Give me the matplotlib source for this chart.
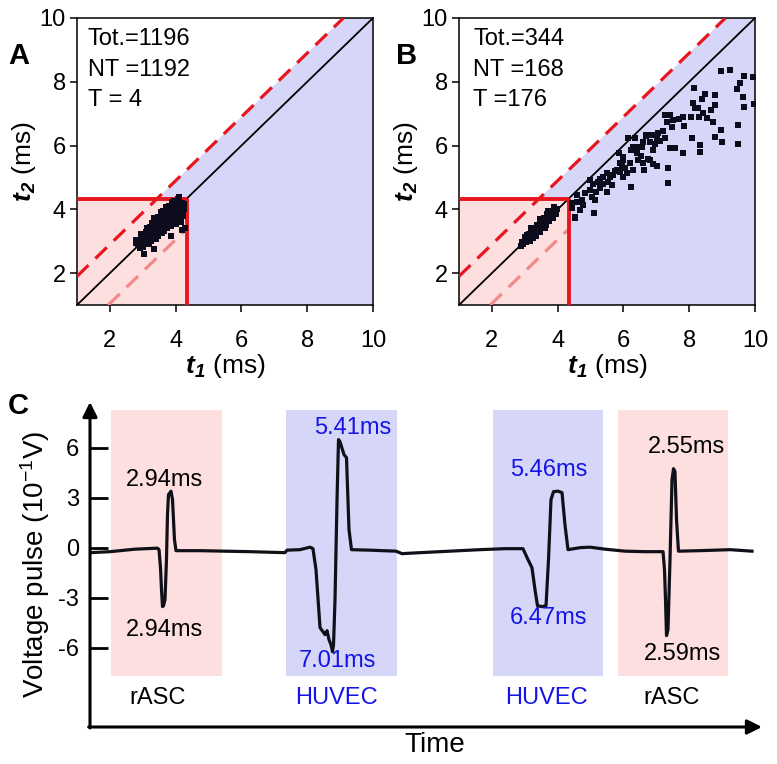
import matplotlib
matplotlib.use("Agg")
import matplotlib.pyplot as plt
from matplotlib.patches import Polygon, Rectangle

plt.rcParams['font.family'] = ['Liberation Sans', 'DejaVu Sans']
plt.rcParams['mathtext.fontset'] = 'custom'
plt.rcParams['mathtext.rm'] = 'Liberation Sans'
plt.rcParams['mathtext.it'] = 'Liberation Sans:italic:bold'
plt.rcParams['mathtext.bf'] = 'Liberation Sans:italic:bold'

# ---------------- data ----------------
ticks_ab = [2, 4, 6, 8, 10]
threshold = 4.33          # ms, boundary of the translocation-time box
upper_offset = 0.9        # upper dashed line: t2 = t1 + 0.9
lower_offset = -0.95      # lower dashed line: t2 = t1 - 0.95

stats_a = ["Tot.=1196", "NT =1192", "T = 4"]
stats_b = ["Tot.=344", "NT =168", "T =176"]

# Panel A points (t1, t2) in ms
a_t1 = [2.80, 2.85, 2.90, 2.95, 2.88, 3.00, 3.05, 2.98, 3.10, 3.02, 3.12,
        3.15, 3.20, 3.10, 3.25, 3.18, 3.28, 3.22, 3.30,
        3.35, 3.40, 3.32, 3.42, 3.38, 3.48, 3.45, 3.36, 3.50,
        3.55, 3.60, 3.52, 3.62, 3.58, 3.68, 3.65, 3.56, 3.70,
        3.75, 3.80, 3.72, 3.82, 3.78, 3.88, 3.85, 3.76, 3.90,
        3.95, 4.00, 3.92, 4.02, 3.98, 4.08, 4.05, 4.10, 4.12,
        4.15, 4.20, 4.18, 4.22, 4.08, 4.25,
        3.05, 3.34, 3.86, 4.18, 4.28, 4.10, 4.00, 4.15,
        3.08, 3.26, 3.44, 3.64, 3.84, 4.04, 3.15, 3.33, 3.53, 3.73, 3.93,
        2.78, 2.95, 3.12, 3.28, 3.45, 3.62, 3.80, 3.96, 4.06,
        3.00, 3.25, 3.45, 3.65, 3.85, 4.05, 4.22, 4.25, 2.92,
        3.20, 3.40, 3.58, 3.75, 3.92, 4.12, 3.35, 3.55, 3.72, 3.90]
a_t2 = [2.95, 2.88, 3.00, 2.92, 3.05, 3.05, 2.95, 3.15, 3.08, 3.22, 2.98,
        3.20, 3.10, 3.30, 3.25, 3.38, 3.12, 3.45, 3.35,
        3.30, 3.20, 3.48, 3.42, 3.58, 3.30, 3.52, 3.65, 3.45,
        3.55, 3.40, 3.68, 3.62, 3.78, 3.50, 3.72, 3.85, 3.62,
        3.75, 3.60, 3.88, 3.82, 3.95, 3.70, 3.92, 4.02, 3.82,
        3.95, 3.80, 4.05, 4.02, 4.12, 3.90, 4.10, 4.00, 4.15,
        4.05, 4.12, 4.20, 3.98, 4.22, 4.18,
        2.60, 2.75, 3.17, 3.35, 3.40, 4.38, 3.55, 3.60,
        3.18, 3.36, 3.56, 3.76, 3.96, 4.14, 3.05, 3.22, 3.42, 3.60, 3.78,
        3.05, 3.22, 3.40, 3.58, 3.76, 3.95, 4.10, 4.25, 4.32,
        2.82, 3.00, 3.15, 3.32, 3.48, 3.65, 3.80, 4.02, 2.80,
        2.90, 3.08, 3.25, 3.40, 3.55, 3.75, 3.72, 3.92, 4.08, 4.22]

# Panel B points (t1, t2) in ms
b_t1 = [2.88, 2.92, 2.95, 3.00, 3.05, 3.02, 3.10, 3.15, 3.12, 3.20, 3.25, 3.22,
        3.30, 3.35, 3.32, 3.40, 3.45, 3.42, 3.50, 3.55, 3.52, 3.60, 3.65, 3.62,
        3.70, 3.75, 3.72, 3.80, 3.85, 3.82, 3.90, 3.95, 3.92, 3.98, 3.68, 3.58,
        3.48, 3.38, 3.28, 3.18, 3.08, 3.20, 3.45, 3.70, 3.88, 3.35, 3.60,
        8.96, 9.24, 9.66, 9.95, 9.54, 9.44, 9.65, 9.66, 9.98, 9.49, 9.47, 8.98,
        8.78, 9.01, 8.73, 8.53, 8.65, 8.78, 8.78, 8.48, 8.38, 8.27, 8.41, 8.30,
        8.14, 8.12, 8.19, 8.04, 8.08, 8.34, 8.34, 7.82, 7.84, 7.70, 7.51, 7.41,
        7.31, 7.27, 7.47, 7.19, 7.06, 7.26, 7.57, 7.41, 7.82, 7.36, 7.34, 7.01,
        6.96, 6.86, 6.81, 6.91, 6.68, 6.60, 6.45, 6.15, 6.35, 6.23, 6.40, 6.52,
        5.99, 6.20, 6.45, 6.74, 6.60, 6.81, 6.91, 6.62, 7.01, 6.28, 6.10, 5.99,
        6.22, 5.89, 5.79, 5.67, 5.49, 5.39, 5.54, 5.64, 5.39, 5.23, 5.08, 5.28,
        4.98, 5.18, 4.98, 5.03, 5.13, 4.73, 4.58, 4.78, 4.68, 4.43, 4.53, 4.53,
        5.11, 6.30, 5.87, 5.89, 5.49, 4.83, 6.05, 5.75, 5.60, 5.30, 6.55, 6.70,
        7.10, 4.60, 4.45, 6.00, 6.35, 5.95]
b_t2 = [2.85, 2.98, 2.90, 3.05, 2.98, 3.12, 3.10, 3.02, 3.22, 3.18, 3.10, 3.30,
        3.28, 3.20, 3.40, 3.38, 3.30, 3.50, 3.48, 3.40, 3.60, 3.58, 3.50, 3.70,
        3.68, 3.62, 3.80, 3.78, 3.72, 3.90, 3.88, 3.85, 3.98, 4.02, 3.85, 3.72,
        3.62, 3.52, 3.40, 3.30, 3.20, 3.42, 3.70, 3.95, 4.08, 3.15, 3.42,
        8.34, 8.37, 8.18, 8.16, 7.95, 7.76, 7.53, 7.20, 7.30, 6.64, 6.05, 6.49,
        6.28, 6.12, 6.75, 6.85, 7.13, 7.27, 7.58, 7.61, 7.46, 7.17, 7.01, 6.90,
        7.79, 7.32, 7.17, 6.90, 6.24, 6.02, 5.81, 6.90, 6.61, 6.83, 6.80, 6.96,
        6.75, 6.96, 6.58, 6.46, 6.38, 6.23, 5.91, 5.91, 5.77, 5.29, 4.83, 6.19,
        6.05, 6.33, 6.12, 5.86, 6.33, 6.12, 5.96, 6.23, 6.23, 5.86, 5.76, 5.67,
        5.65, 5.44, 5.55, 5.57, 5.44, 5.55, 5.42, 5.23, 5.36, 5.23, 5.13, 5.02,
        4.71, 5.18, 5.23, 5.08, 5.13, 5.02, 4.87, 4.76, 4.81, 4.87, 4.81, 4.66,
        4.92, 4.55, 4.61, 4.40, 4.29, 4.29, 4.24, 4.13, 3.98, 4.03, 3.77, 3.72,
        3.89, 5.96, 5.76, 5.44, 4.55, 4.50, 5.30, 5.20, 5.00, 4.95, 5.95, 6.30,
        6.15, 4.45, 4.20, 5.55, 5.90, 5.35]

# Panel C: voltage trace (time in a.u., voltage in 10^-1 V)
trace_t = [0.0, 2.98, 6.70, 10.04, 10.27, 10.49, 10.64, 10.79, 10.94, 11.16,
           11.38, 11.53, 11.68, 11.90, 12.05, 12.28, 12.57, 12.80, 16.37, 20.0,
           23.8, 29.0, 29.32, 31.25, 32.74, 33.18, 33.63, 34.23, 34.67, 34.97,
           35.27, 35.57, 35.86, 36.09, 36.24, 36.46, 36.76, 36.98, 37.20, 37.43,
           37.80, 38.17, 38.54, 38.91, 41.67, 45.54, 46.43, 49.11, 53.57, 58.04,
           61.76, 64.43, 65.18, 65.77, 66.22, 66.59, 67.26, 67.86, 68.23, 68.60,
           68.97, 69.64, 70.24, 70.68, 71.13, 72.92, 74.40, 76.64, 79.61, 82.59,
           85.27, 85.49, 85.64, 85.79, 86.01, 86.31, 86.61, 86.83, 87.05, 87.28,
           87.57, 90.77, 95.24, 98.51]
trace_v = [-0.28, -0.22, -0.07, -0.01, -0.10, -1.18, -2.50, -3.52, -3.46, -3.10,
           -0.70, 2.00, 3.20, 3.32, 3.41, 2.90, 0.50, -0.16, -0.16, -0.19,
           -0.22, -0.28, -0.13, -0.10, 0.05, -0.04, -1.30, -4.78, -5.02, -5.20,
           -4.96, -5.50, -5.80, -6.22, -5.80, -3.10, 2.90, 6.50, 6.38, 6.08,
           5.60, 5.42, 1.11, -0.10, -0.13, -0.19, -0.34, -0.28, -0.19, -0.10,
           -0.04, -0.04, -0.70, -1.18, -2.50, -3.46, -3.52, -3.46, -0.70, 2.90,
           3.38, 3.41, 3.32, 1.40, -0.10, 0.02, 0.05, -0.07, -0.19, -0.22,
           -0.22, -1.30, -3.10, -5.26, -4.90, -0.70, 4.10, 4.76, 4.58, 1.70,
           -0.19, -0.16, -0.10, -0.19]

c_yticks = [-6, -3, 0, 3, 6]
box_cells = ["rASC", "HUVEC", "HUVEC", "rASC"]
box_start = [3.13, 29.17, 59.93, 78.53]
box_end = [19.6, 45.64, 76.38, 94.99]
box_low, box_high = -7.66, 8.30
peak_labels = ["2.94ms", "5.41ms", "5.46ms", "2.55ms"]
peak_pos = [(11.16, 4.10), (39.1, 7.22), (68.3, 4.67), (88.7, 6.05)]
trough_labels = ["2.94ms", "7.01ms", "6.47ms", "2.59ms"]
trough_pos = [(11.16, -4.90), (36.76, -6.79), (68.2, -4.21), (88.2, -6.34)]
cell_label_x = [10.1, 36.6, 67.9, 86.5]
cell_label_v = -8.97

PINK = '#fddfe0'
BLUE = '#d6d6f8'
RED = '#e8151f'
LIGHTRED = '#f28a8a'
TXTBLUE = '#1414e6'
DOT = '#0c0c1c'

W, H = 777, 764
fig = plt.figure(figsize=(W / 100, H / 100), dpi=100)


def fig_rect(l, t, r, b):
    return [l / W, 1 - b / H, (r - l) / W, (b - t) / H]


def scatter_panel(ax, xs, ys, stats, letter_x):
    ax.set_xlim(1, 10)
    ax.set_ylim(1, 10)
    ax.add_patch(Polygon([(1, 1), (threshold, 1), (threshold, threshold), (1, threshold)],
                         closed=True, facecolor=PINK, edgecolor='none', zorder=0))
    x_up = threshold - upper_offset
    ax.add_patch(Polygon([(threshold, 1), (10, 1), (10, 10), (10 - upper_offset, 10),
                          (x_up, threshold), (threshold, threshold)],
                         closed=True, facecolor=BLUE, edgecolor='none', zorder=0))
    ax.plot([1, 10], [1, 10], color='black', lw=1.3, zorder=2)
    ax.plot([1, 10 - upper_offset], [1 + upper_offset, 10], color=RED, lw=2.3,
            dashes=(5, 3), dash_capstyle='butt', zorder=3)
    ax.plot([1 - lower_offset, threshold - 0.03], [1, threshold - 0.03 + lower_offset],
            color=LIGHTRED, lw=2.3, dashes=(5, 3), dash_capstyle='butt', zorder=3)
    ax.plot([threshold, threshold], [1, threshold], color=RED, lw=2.8, zorder=3,
            solid_capstyle='butt')
    ax.plot([1, threshold], [threshold, threshold], color=RED, lw=2.8, zorder=3,
            solid_capstyle='butt')
    ax.scatter(xs, ys, marker='s', s=16, color=DOT, linewidths=0, zorder=4)
    ax.set_xticks(ticks_ab)
    ax.set_yticks(ticks_ab)
    ax.tick_params(direction='out', length=5, width=1.1, labelsize=17)
    ax.tick_params(axis='x', pad=13)
    ax.tick_params(axis='y', pad=3)
    for s in ax.spines.values():
        s.set_linewidth(1.1)
    ax.set_xlabel(r"$\mathbf{t}_{\mathbf{1}}$ (ms)", fontsize=19, labelpad=0)
    ax.set_ylabel(r"$\mathbf{t}_{\mathbf{2}}$ (ms)", fontsize=19, labelpad=1)
    for i, s in enumerate(stats):
        ax.text(letter_x, [9.34, 8.37, 7.43][i], s, fontsize=17, va='center', ha='left',
                zorder=5)


axA = fig.add_axes(fig_rect(77, 18, 373, 305))
scatter_panel(axA, a_t1, a_t2, stats_a, 1.33)
axB = fig.add_axes(fig_rect(459, 18, 755, 305))
scatter_panel(axB, b_t1, b_t2, stats_b, 1.43)

fig.text(19 / W, 1 - 56 / H, "A", fontsize=21, fontweight='bold', ha='center', va='center')
fig.text(407 / W, 1 - 56 / H, "B", fontsize=21, fontweight='bold', ha='center', va='center')
fig.text(18 / W, 1 - 406 / H, "C", fontsize=21, fontweight='bold', ha='center', va='center')

# ---------------- Panel C ----------------
axC = fig.add_axes(fig_rect(90, 402, 762, 727))
axC.set_xlim(0, 100)
axC.set_ylim(-10.74, 8.76)
for s in axC.spines.values():
    s.set_visible(False)
for i, cell in enumerate(box_cells):
    col = PINK if cell == "rASC" else BLUE
    axC.add_patch(Rectangle((box_start[i], box_low), box_end[i] - box_start[i],
                            box_high - box_low, facecolor=col, edgecolor='none', zorder=0))
    tc = 'black' if cell == "rASC" else TXTBLUE
    axC.text(cell_label_x[i], cell_label_v, cell, color=tc, fontsize=17,
             ha='center', va='center')
    axC.text(peak_pos[i][0], peak_pos[i][1], peak_labels[i], color=tc, fontsize=17,
             ha='center', va='center', zorder=5)
    axC.text(trough_pos[i][0], trough_pos[i][1], trough_labels[i], color=tc, fontsize=17,
             ha='center', va='center', zorder=5)
axC.plot(trace_t, trace_v, color='#101018', lw=2.3, zorder=3, solid_joinstyle='round')
axC.set_xticks([])
axC.set_yticks(c_yticks)
axC.set_yticklabels([str(v) for v in c_yticks])
axC.tick_params(axis='y', direction='in', length=13, width=2, labelsize=17, pad=8)
axC.annotate('', xy=(1.0, 0.0), xytext=(-0.002, 0.0), xycoords='axes fraction',
             arrowprops=dict(arrowstyle='-|>', lw=2.2, color='black', mutation_scale=22,
                             shrinkA=0, shrinkB=0))
axC.annotate('', xy=(0.0, 1.0), xytext=(0.0, -0.003), xycoords='axes fraction',
             arrowprops=dict(arrowstyle='-|>', lw=2.2, color='black', mutation_scale=22,
                             shrinkA=0, shrinkB=0))
axC.set_ylabel("Voltage pulse (10$^{-1}$V)", fontsize=20, labelpad=4)
fig.text(435 / W, 1 - 745 / H, "Time", fontsize=20, ha='center', va='center')

fig.savefig("out.png", dpi=100)
